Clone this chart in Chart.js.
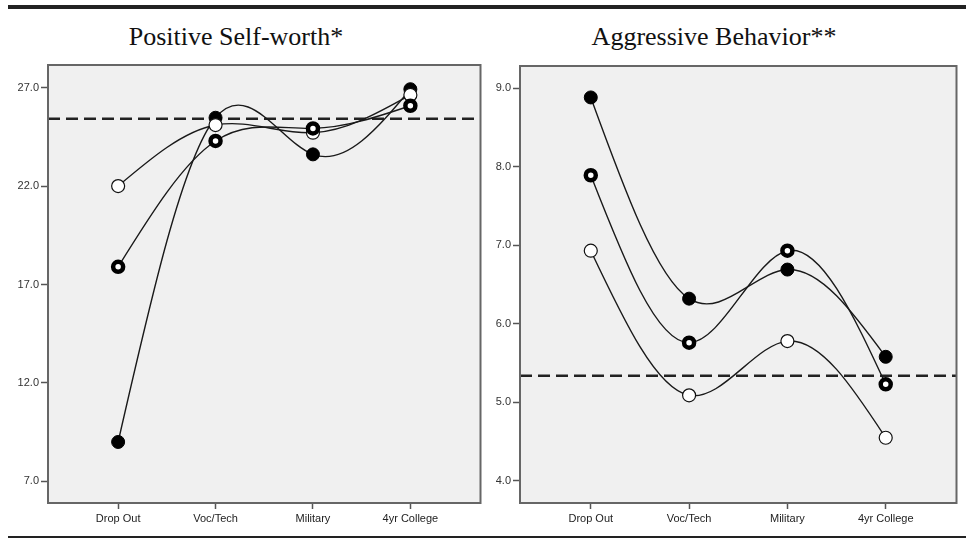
<!DOCTYPE html>
<html>
<head>
<meta charset="utf-8">
<script src="https://cdn.jsdelivr.net/npm/chart.js@4.4.1/dist/chart.umd.min.js"></script>
<style>
  html, body { margin: 0; padding: 0; background: #fff; }
  #page { position: relative; width: 966px; height: 539px; overflow: hidden; background: #fff; }
  .rule { position: absolute; background: #222; }
  .title {
    position: absolute; top: 22px;
    font-family: 'Liberation Serif', 'Times New Roman', serif;
    font-size: 26px; line-height: 30px; color: #111;
    white-space: nowrap; transform: translateX(-50%);
  }
  canvas { position: absolute; top: 0; }
</style>
</head>
<body>
<div id="page">
  <div class="rule" style="left:8px;top:4.5px;width:958px;height:4px"></div>
  <div class="rule" style="left:8px;top:536px;width:958px;height:2px"></div>
  <div class="title" style="left:236px">Positive Self-worth*</div>
  <div class="title" style="left:714px">Aggressive Behavior**</div>
  <canvas id="selfWorth" width="490" height="535" style="left:0"></canvas>
  <canvas id="aggression" width="490" height="535" style="left:476px"></canvas>
</div>
<script>
// Outcome groups along the horizontal axis
const categories = ['Drop Out', 'Voc/Tech', 'Military', '4yr College'];

// Positive self-worth: group means for the three profiles
const selfWorthFilled = [9.0, 25.47, 23.61, 26.92];
const selfWorthOpen   = [22.0, 25.10, 24.71, 26.63];
const selfWorthRing   = [17.9, 24.29, 24.93, 26.08];
const selfWorthRef    = 25.42;
const selfWorthTicks  = [7, 12, 17, 22, 27];

// Aggressive behavior: group means for the three profiles
const aggressionFilled = [8.88, 6.32, 6.69, 5.58];
const aggressionOpen   = [6.93, 5.09, 5.78, 4.55];
const aggressionRing   = [7.89, 5.76, 6.93, 5.23];
const aggressionRef    = 5.34;
const aggressionTicks  = [4, 5, 6, 7, 8, 9];

Chart.defaults.font.family = "'Liberation Sans', Arial, sans-serif";
Chart.defaults.font.size = 11;

// Slopes of a natural cubic spline through equally spaced values
function naturalSlopes(ys) {
  const n = ys.length;
  const m = new Array(n).fill(0);
  if (n > 2) {
    const a = [], b = [], c = [], d = [];
    for (let i = 1; i < n - 1; i++) {
      a.push(1); b.push(4); c.push(1);
      d.push(6 * (ys[i - 1] - 2 * ys[i] + ys[i + 1]));
    }
    const k = d.length;
    for (let i = 1; i < k; i++) {
      const w = a[i] / b[i - 1];
      b[i] -= w * c[i - 1];
      d[i] -= w * d[i - 1];
    }
    const sol = new Array(k);
    sol[k - 1] = d[k - 1] / b[k - 1];
    for (let i = k - 2; i >= 0; i--) sol[i] = (d[i] - c[i] * sol[i + 1]) / b[i];
    for (let i = 0; i < k; i++) m[i + 1] = sol[i];
  }
  const s = [];
  for (let i = 0; i < n - 1; i++) s.push((ys[i + 1] - ys[i]) - (2 * m[i] + m[i + 1]) / 6);
  s.push((ys[n - 1] - ys[n - 2]) + (m[n - 2] + 2 * m[n - 1]) / 6);
  return s;
}

// Replace the line's bezier handles with natural-spline ones (mapped through the scales)
const naturalSplinePlugin = {
  id: 'naturalSpline',
  beforeDatasetDraw(chart, args) {
    const ds = chart.data.datasets[args.index];
    if (!ds.naturalSpline) return;
    const meta = args.meta;
    const line = meta.dataset;
    if (!line || typeof line.updateControlPoints !== 'function') return;
    line.updateControlPoints(chart.chartArea, 'x');
    const xs = chart.scales.x, ys = chart.scales.y;
    const vals = ds.data.map(p => p.y);
    const slope = naturalSlopes(vals);
    meta.data.forEach((pt, i) => {
      const xv = ds.data[i].x, yv = vals[i];
      pt.cp1x = xs.getPixelForValue(xv - 1 / 3);
      pt.cp1y = ys.getPixelForValue(yv - slope[i] / 3);
      pt.cp2x = xs.getPixelForValue(xv + 1 / 3);
      pt.cp2y = ys.getPixelForValue(yv + slope[i] / 3);
    });
    line._path = undefined;
  }
};

// Grey plot background and framed plot box
const framePlugin = {
  id: 'plotFrame',
  beforeDraw(chart) {
    const { ctx, chartArea: a } = chart;
    ctx.save();
    ctx.fillStyle = '#f0f0f0';
    ctx.fillRect(a.left, a.top, a.width, a.height);
    ctx.restore();
  },
  afterDraw(chart) {
    const { ctx, chartArea: a } = chart;
    ctx.save();
    ctx.strokeStyle = '#666';
    ctx.lineWidth = 2;
    ctx.strokeRect(a.left, a.top, a.width, a.height);
    ctx.restore();
  }
};

const X_MIN = -0.72, X_MAX = 3.72;
const toPoints = arr => arr.map((v, i) => ({ x: i, y: v }));

function buildPanel(id, filled, open, ring, ref, ticks, yMin, yMax, yWidth, padTop, padRight) {
  const lineBase = { borderColor: '#1a1a1a', borderWidth: 1.4, tension: 0.4, naturalSpline: true, fill: false };
  return new Chart(document.getElementById(id), {
    type: 'line',
    data: {
      datasets: [
        Object.assign({}, lineBase, {
          data: toPoints(filled), order: 3,
          pointRadius: 6.5, pointHoverRadius: 6.5,
          pointBackgroundColor: '#000', pointBorderColor: '#000', pointBorderWidth: 1
        }),
        Object.assign({}, lineBase, {
          data: toPoints(open), order: 2,
          pointRadius: 6.5, pointHoverRadius: 6.5,
          pointBackgroundColor: '#fff', pointBorderColor: '#111', pointBorderWidth: 1.2
        }),
        Object.assign({}, lineBase, {
          data: toPoints(ring), order: 1,
          pointRadius: 5, pointHoverRadius: 5,
          pointBackgroundColor: '#fff', pointBorderColor: '#000', pointBorderWidth: 4.5
        }),
        {
          data: [{ x: X_MIN, y: ref }, { x: X_MAX, y: ref }], order: 4,
          borderColor: '#222', borderWidth: 2.5, borderDash: [12, 6],
          pointRadius: 0, pointHoverRadius: 0, tension: 0, fill: false
        }
      ]
    },
    options: {
      responsive: false,
      devicePixelRatio: 1,
      animation: false,
      events: [],
      layout: { padding: { top: padTop, right: padRight, left: 0, bottom: 0 } },
      plugins: { legend: { display: false }, tooltip: { enabled: false }, title: { display: false } },
      scales: {
        x: {
          type: 'linear', min: X_MIN, max: X_MAX,
          afterBuildTicks: s => { s.ticks = categories.map((_, i) => ({ value: i })); },
          afterFit: s => { s.height = 32; },
          grid: { drawOnChartArea: false, drawTicks: true, tickLength: 6, tickColor: '#555', tickWidth: 1.5 },
          border: { display: false },
          ticks: { color: '#222', padding: 3, maxRotation: 0, autoSkip: false,
                   callback: v => categories[v] }
        },
        y: {
          type: 'linear', min: yMin, max: yMax,
          afterBuildTicks: s => { s.ticks = ticks.map(v => ({ value: v })); },
          afterFit: s => { s.width = yWidth; },
          grid: { drawOnChartArea: false, drawTicks: true, tickLength: 7, tickColor: '#555', tickWidth: 1.5 },
          border: { display: false },
          ticks: { color: '#333', padding: 2, autoSkip: false, callback: v => v.toFixed(1) }
        }
      }
    },
    plugins: [framePlugin, naturalSplinePlugin]
  });
}

buildPanel('selfWorth', selfWorthFilled, selfWorthOpen, selfWorthRing, selfWorthRef,
           selfWorthTicks, 5.9, 28.15, 48, 65, 9);
buildPanel('aggression', aggressionFilled, aggressionOpen, aggressionRing, aggressionRef,
           aggressionTicks, 3.72, 9.28, 44, 66, 8);
</script>
</body>
</html>
